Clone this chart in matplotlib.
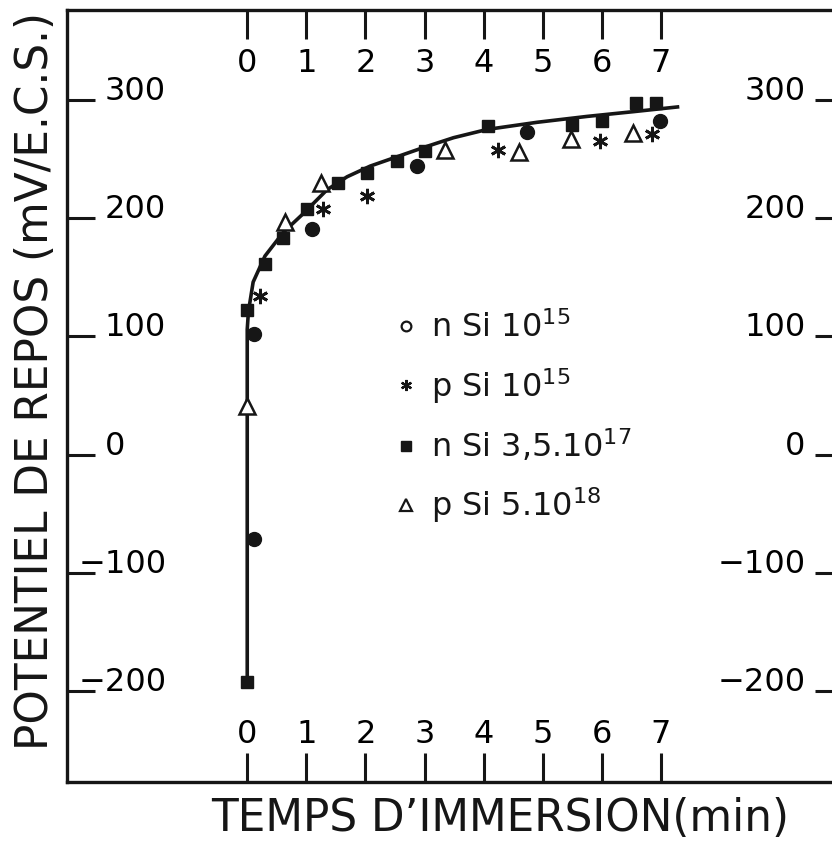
import matplotlib
matplotlib.use("Agg")
import matplotlib.pyplot as plt
from matplotlib.lines import Line2D
from matplotlib.transforms import ScaledTranslation

# values (time in min, potential in mV/E.C.S.)
nsi15_t = [0.12, 0.12, 1.1, 2.88, 4.74, 6.99]
nsi15_v = [-71, 102, 191, 244, 273, 282]

psi15_t = [0.22, 1.29, 2.03, 4.25, 5.97, 6.85]
psi15_v = [134, 208, 219, 258, 265, 271]

nsi17_t = [0, 0, 0.3, 0.61, 1.01, 1.54, 2.03, 2.54, 3.01, 4.08, 5.5, 6.0, 6.57, 6.92]
nsi17_v = [-192, 122, 161, 183, 208, 230, 238, 248, 257, 278, 279, 282, 297, 297]

psi18_t = [0, 0.64, 1.24, 3.35, 4.59, 5.47, 6.53]
psi18_v = [41, 197, 230, 258, 256, 267, 272]

# hand-drawn curve through the points
curve_t = [0, 0, 0.02, 0.1, 0.3, 0.61, 0.93, 1.35, 1.69, 2.08, 2.54, 3.0, 3.49, 4.06, 4.9, 5.75, 6.53, 7.28]
curve_v = [-192, 106, 121, 146, 168, 188, 203, 224, 235, 244, 252, 260, 268, 275, 281, 286, 290, 294]

x_ticks = [0, 1, 2, 3, 4, 5, 6, 7]
x_labels = ["0", "1", "2", "3", "4", "5", "6", "7"]
y_ticks = [300, 200, 100, 0, -100, -200]
y_labels = ["300", "200", "100", "0", "\u2212100", "\u2212200"]

legend_labels = ["n Si $10^{15}$", "p Si $10^{15}$",
                 "n Si 3,5.$10^{17}$", "p Si 5.$10^{18}$"]

ink = "#161616"
plt.rcParams["font.family"] = "DejaVu Sans"
plt.rcParams["mathtext.default"] = "regular"
plt.rcParams["text.color"] = ink

fig = plt.figure(figsize=(8.32, 8.41), dpi=100)
ax = fig.add_axes([0.0805, 0.0702, 0.9327, 0.918])

ax.plot(curve_t, curve_v, color=ink, lw=2.6, zorder=2)
ax.plot(nsi15_t, nsi15_v, ls="none", marker="o", ms=10, color=ink, zorder=3)
ax.plot(psi15_t, psi15_v, ls="none", marker=(6, 2, 0), ms=11, mew=2, color=ink, zorder=3)
ax.plot(nsi17_t, nsi17_v, ls="none", marker="s", ms=8.5, color=ink, zorder=3)
ax.plot(psi18_t, psi18_v, ls="none", marker="^", ms=11, mfc="white", mec=ink, mew=1.8, zorder=4)

ax.set_xlim(-3.05, 10.08)
ax.set_ylim(-276.5, 376)
for s in ax.spines.values():
    s.set_linewidth(2.4)
    s.set_color(ink)

ax.set_xticks(x_ticks, x_labels)
ax.set_yticks(y_ticks, y_labels)
ax.tick_params(axis="x", direction="in", length=21, width=2.2, color=ink,
               top=True, labeltop=True, pad=-45, labelsize=23)
ax.tick_params(axis="y", direction="in", length=20, width=2.2, color=ink,
               right=True, labelright=True, pad=-27, labelsize=23)

for tick in ax.xaxis.get_major_ticks():
    tick.label2.set_va("baseline")
for tick, v in zip(ax.yaxis.get_major_ticks(), y_ticks):
    tick.label1.set_ha("left")
    tick.label1.set_va("baseline")
    tick.label2.set_ha("right")
    tick.label2.set_va("baseline")
    if v < 0:
        # minus sign hangs over the tick, digits stay aligned
        tick.label1.set_transform(tick.label1.get_transform()
                                  + ScaledTranslation(-0.26, 0, fig.dpi_scale_trans))

handles = [
    Line2D([], [], ls="none", marker="o", mfc="none", mec=ink, ms=7, mew=1.6),
    Line2D([], [], ls="none", marker=(6, 2, 0), ms=8, mew=1.6, color=ink),
    Line2D([], [], ls="none", marker="s", ms=7, color=ink),
    Line2D([], [], ls="none", marker="^", mfc="none", mec=ink, ms=8, mew=1.6),
]
ax.legend(handles, legend_labels, loc="upper left", bbox_to_anchor=(0.42, 0.609),
          frameon=False, fontsize=23, handlelength=0.8, handletextpad=0.4,
          labelspacing=0.67, borderpad=0, borderaxespad=0)

fig.text(0.601, 1 - 797 / 841, "TEMPS D\u2019IMMERSION(min)", ha="center", va="top",
         fontsize=31.5)
fig.text(0.043, 1 - 381 / 841, "POTENTIEL DE REPOS (mV/E.C.S.)", rotation=90,
         ha="center", va="center", fontsize=31.5)

fig.savefig("out.png", dpi=100, facecolor="white")
